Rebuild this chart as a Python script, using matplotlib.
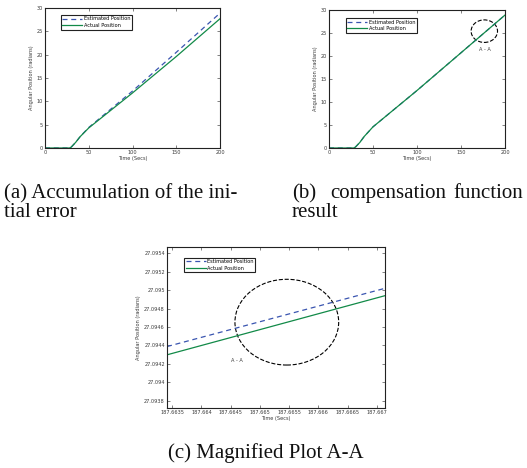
import matplotlib.pyplot as plt
from matplotlib.patches import Ellipse

# panel (a): accumulation of the initial error
t_a = [0, 10, 20, 28, 30, 35, 40, 50, 100, 150, 200]
actual_a = [0, 0, 0, 0, 0.2, 1.2, 2.4, 4.3, 11.8, 19.6, 27.7]
estimated_a = [0, 0, 0, 0, 0.2, 1.2, 2.4, 4.4, 12.2, 20.5, 28.9]

# panel (b): after compensation
t_b = [0, 10, 20, 28, 30, 35, 40, 50, 100, 150, 200]
actual_b = [0, 0, 0, 0, 0.2, 1.2, 2.5, 4.6, 12.5, 20.7, 28.9]
estimated_b = [0, 0, 0, 0, 0.2, 1.2, 2.5, 4.6, 12.5, 20.7, 28.9]

# panel (c): magnified A-A
t_c = [187.66341, 187.66714]
estimated_c = [27.094388, 27.095021]
actual_c = [27.094298, 27.094941]
xticks_c = [187.6635, 187.664, 187.6645, 187.665, 187.6655, 187.666, 187.6665, 187.667]
xlabels_c = ['187.6635', '187.664', '187.6645', '187.665', '187.6655', '187.666', '187.6665', '187.667']
yticks_c = [27.0938, 27.094, 27.0942, 27.0944, 27.0946, 27.0948, 27.095, 27.0952, 27.0954]
ylabels_c = ['27.0938', '27.094', '27.0942', '27.0944', '27.0946', '27.0948', '27.095', '27.0952', '27.0954']

W, H = 527, 468
blue = '#3a55b0'
green = '#128a48'
txt = '#3a3a3a'
fs = 3.6

fig = plt.figure(figsize=(W / 100, H / 100), dpi=100)


def px_axes(l, t, r, b):
    return fig.add_axes([l / W, 1 - b / H, (r - l) / W, (b - t) / H])


def style(ax):
    ax.tick_params(direction='in', top=True, right=True, labelsize=fs,
                   length=2, width=0.4, colors='#222222', labelcolor=txt, pad=1.5)
    for s in ax.spines.values():
        s.set_linewidth(0.8)
        s.set_color('#222222')


def legend(ax, x, y):
    leg = ax.legend(loc='upper left', bbox_to_anchor=(x, y), fontsize=fs,
                    fancybox=False, framealpha=1, edgecolor='#222222',
                    handlelength=4, borderpad=0.3, labelspacing=0.3,
                    handletextpad=0.3, borderaxespad=0)
    leg.get_frame().set_linewidth(0.8)


# (a)
ax = px_axes(45, 8, 220, 148)
ax.plot(t_a, estimated_a, '--', color=blue, lw=0.9, dashes=(4, 3), label='Estimated Position')
ax.plot(t_a, actual_a, '-', color=green, lw=0.9, label='Actual Position')
ax.set_xlim(0, 200)
ax.set_ylim(0, 30)
ax.set_xticks([0, 50, 100, 150, 200])
ax.set_yticks([0, 5, 10, 15, 20, 25, 30])
ax.set_xlabel('Time (Secs)', fontsize=fs, color=txt, labelpad=1)
ax.set_ylabel('Angular Position (radians)', fontsize=fs, color=txt, labelpad=2)
style(ax)
legend(ax, 0.091, 0.95)

# (b)
ax = px_axes(329, 10, 505, 148)
ax.plot(t_b, estimated_b, '--', color=blue, lw=0.9, dashes=(4, 3), label='Estimated Position')
ax.plot(t_b, actual_b, '-', color=green, lw=0.9, label='Actual Position')
ax.add_patch(Ellipse((176.5, 25.4), 30, 4.9, fill=False, ls='--', lw=0.8, color='black'))
ax.text(177, 21.4, 'A - A', fontsize=fs, color=txt, ha='center', va='center')
ax.set_xlim(0, 200)
ax.set_ylim(0, 30)
ax.set_xticks([0, 50, 100, 150, 200])
ax.set_yticks([0, 5, 10, 15, 20, 25, 30])
ax.set_xlabel('Time (Secs)', fontsize=fs, color=txt, labelpad=1)
ax.set_ylabel('Angular Position (radians)', fontsize=fs, color=txt, labelpad=2)
style(ax)
legend(ax, 0.095, 0.942)

# (c)
ax = px_axes(167, 247, 385, 408)
ax.plot(t_c, estimated_c, '--', color=blue, lw=0.9, dashes=(4, 3), label='Estimated Position')
ax.plot(t_c, actual_c, '-', color=green, lw=0.9, label='Actual Position')
ax.add_patch(Ellipse((187.66546, 27.094653), 0.001775, 0.000932, fill=False,
                     ls='--', lw=0.8, color='black'))
ax.text(187.6646, 27.094233, 'A - A', fontsize=fs, color=txt, ha='center', va='center')
ax.set_xlim(t_c[0], t_c[-1])
ax.set_ylim(27.09372, 27.09547)
ax.set_xticks(xticks_c)
ax.set_xticklabels(xlabels_c)
ax.set_yticks(yticks_c)
ax.set_yticklabels(ylabels_c)
ax.set_xlabel('Time (Secs)', fontsize=fs, color=txt, labelpad=1)
ax.set_ylabel('Angular Position (radians)', fontsize=fs, color=txt, labelpad=2)
style(ax)
legend(ax, 0.078, 0.934)

# captions
cap = dict(fontsize=15, family='Liberation Serif', color='#111111', va='baseline')
fig.text(4 / W, 1 - 198 / H, '(a) Accumulation of the ini-', **cap)
fig.text(4 / W, 1 - 217 / H, 'tial error', **cap)
fig.text(292 / W, 1 - 198 / H, '(b)', **cap)
fig.text(330 / W, 1 - 198 / H, 'compensation', **cap)
fig.text(523 / W, 1 - 198 / H, 'function', ha='right', **cap)
fig.text(292 / W, 1 - 217 / H, 'result', **cap)
fig.text(266 / W, 1 - 458 / H, '(c) Magnified Plot A-A', ha='center', **cap)

plt.savefig('out.png', dpi=100)
